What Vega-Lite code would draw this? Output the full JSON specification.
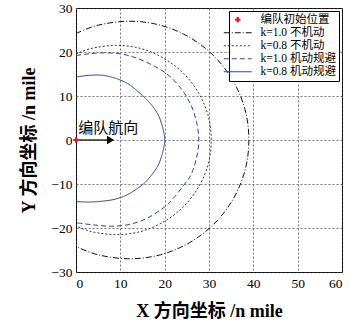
{
  "$schema": "https://vega.github.io/schema/vega-lite/v6.json",
  "width": 266,
  "height": 264,
  "autosize": "none",
  "padding": {"left": 76, "top": 8, "right": 8, "bottom": 48},
  "background": "white",
  "config": {
    "view": {"stroke": "black", "strokeWidth": 1},
    "axis": {
      "labelFont": "Liberation Serif",
      "labelFontSize": 13.5,
      "labelColor": "black",
      "titleFont": "Liberation Serif, Noto Sans CJK SC",
      "titleFontSize": 18,
      "titleFontWeight": "bold",
      "titleColor": "black",
      "domain": false,
      "ticks": false,
      "labelPadding": 4,
      "gridColor": "#444",
      "gridDash": [2, 2],
      "gridOpacity": 0.9,
      "gridWidth": 0.8
    },
    "axisX": {"titlePadding": 13},
    "axisY": {"titlePadding": 12}
  },
  "datasets": {
    "curves": [
      {"s": "k=1.0 不机动", "i": 0, "x": 0, "y": 24.2},
      {"s": "k=1.0 不机动", "i": 1, "x": 5.0, "y": 26.1},
      {"s": "k=1.0 不机动", "i": 2, "x": 12, "y": 27},
      {"s": "k=1.0 不机动", "i": 3, "x": 19.0, "y": 26.1},
      {"s": "k=1.0 不机动", "i": 4, "x": 25.5, "y": 23.4},
      {"s": "k=1.0 不机动", "i": 5, "x": 31.1, "y": 19.1},
      {"s": "k=1.0 不机动", "i": 6, "x": 35.4, "y": 13.5},
      {"s": "k=1.0 不机动", "i": 7, "x": 38.1, "y": 7.0},
      {"s": "k=1.0 不机动", "i": 8, "x": 39, "y": 0},
      {"s": "k=1.0 不机动", "i": 9, "x": 38.1, "y": -7.0},
      {"s": "k=1.0 不机动", "i": 10, "x": 35.4, "y": -13.5},
      {"s": "k=1.0 不机动", "i": 11, "x": 31.1, "y": -19.1},
      {"s": "k=1.0 不机动", "i": 12, "x": 25.5, "y": -23.4},
      {"s": "k=1.0 不机动", "i": 13, "x": 19.0, "y": -26.1},
      {"s": "k=1.0 不机动", "i": 14, "x": 12, "y": -27},
      {"s": "k=1.0 不机动", "i": 15, "x": 5.0, "y": -26.1},
      {"s": "k=1.0 不机动", "i": 16, "x": 0, "y": -24.2},
      {"s": "k=0.8 不机动", "i": 0, "x": 0, "y": 19.5},
      {"s": "k=0.8 不机动", "i": 1, "x": 3.4, "y": 20.8},
      {"s": "k=0.8 不机动", "i": 2, "x": 9, "y": 21.5},
      {"s": "k=0.8 不机动", "i": 3, "x": 14.6, "y": 20.8},
      {"s": "k=0.8 不机动", "i": 4, "x": 19.75, "y": 18.6},
      {"s": "k=0.8 不机动", "i": 5, "x": 24.2, "y": 15.2},
      {"s": "k=0.8 不机动", "i": 6, "x": 27.6, "y": 10.75},
      {"s": "k=0.8 不机动", "i": 7, "x": 29.8, "y": 5.6},
      {"s": "k=0.8 不机动", "i": 8, "x": 30.5, "y": 0},
      {"s": "k=0.8 不机动", "i": 9, "x": 29.8, "y": -5.6},
      {"s": "k=0.8 不机动", "i": 10, "x": 27.6, "y": -10.75},
      {"s": "k=0.8 不机动", "i": 11, "x": 24.2, "y": -15.2},
      {"s": "k=0.8 不机动", "i": 12, "x": 19.75, "y": -18.6},
      {"s": "k=0.8 不机动", "i": 13, "x": 14.6, "y": -20.8},
      {"s": "k=0.8 不机动", "i": 14, "x": 9, "y": -21.5},
      {"s": "k=0.8 不机动", "i": 15, "x": 3.4, "y": -20.8},
      {"s": "k=0.8 不机动", "i": 16, "x": 0, "y": -19.5},
      {"s": "k=1.0 机动规避", "i": 0, "x": 0, "y": 19.2},
      {"s": "k=1.0 机动规避", "i": 1, "x": 3, "y": 19.6},
      {"s": "k=1.0 机动规避", "i": 2, "x": 6, "y": 19.8},
      {"s": "k=1.0 机动规避", "i": 3, "x": 10, "y": 19.6},
      {"s": "k=1.0 机动规避", "i": 4, "x": 14, "y": 18.5},
      {"s": "k=1.0 机动规避", "i": 5, "x": 18, "y": 16.6},
      {"s": "k=1.0 机动规避", "i": 6, "x": 21, "y": 14.6},
      {"s": "k=1.0 机动规避", "i": 7, "x": 24, "y": 11.3},
      {"s": "k=1.0 机动规避", "i": 8, "x": 26, "y": 7.8},
      {"s": "k=1.0 机动规避", "i": 9, "x": 27.2, "y": 4},
      {"s": "k=1.0 机动规避", "i": 10, "x": 27.7, "y": 0},
      {"s": "k=1.0 机动规避", "i": 11, "x": 27.2, "y": -4},
      {"s": "k=1.0 机动规避", "i": 12, "x": 26, "y": -7.8},
      {"s": "k=1.0 机动规避", "i": 13, "x": 24.5, "y": -10},
      {"s": "k=1.0 机动规避", "i": 14, "x": 22, "y": -13.2},
      {"s": "k=1.0 机动规避", "i": 15, "x": 20, "y": -15.2},
      {"s": "k=1.0 机动规避", "i": 16, "x": 16, "y": -17.8},
      {"s": "k=1.0 机动规避", "i": 17, "x": 12, "y": -19.2},
      {"s": "k=1.0 机动规避", "i": 18, "x": 8, "y": -19.6},
      {"s": "k=1.0 机动规避", "i": 19, "x": 4, "y": -19.3},
      {"s": "k=1.0 机动规避", "i": 20, "x": 0, "y": -18.8},
      {"s": "k=0.8 机动规避", "i": 0, "x": 0, "y": 14.3},
      {"s": "k=0.8 机动规避", "i": 1, "x": 3, "y": 14.7},
      {"s": "k=0.8 机动规避", "i": 2, "x": 6, "y": 14.7},
      {"s": "k=0.8 机动规避", "i": 3, "x": 9, "y": 14},
      {"s": "k=0.8 机动规避", "i": 4, "x": 12, "y": 12.6},
      {"s": "k=0.8 机动规避", "i": 5, "x": 15, "y": 10.1},
      {"s": "k=0.8 机动规避", "i": 6, "x": 17, "y": 8},
      {"s": "k=0.8 机动规避", "i": 7, "x": 18.5, "y": 5.8},
      {"s": "k=0.8 机动规避", "i": 8, "x": 19.5, "y": 3},
      {"s": "k=0.8 机动规避", "i": 9, "x": 20, "y": 0},
      {"s": "k=0.8 机动规避", "i": 10, "x": 19.5, "y": -3},
      {"s": "k=0.8 机动规避", "i": 11, "x": 18.5, "y": -5.8},
      {"s": "k=0.8 机动规避", "i": 12, "x": 17, "y": -8},
      {"s": "k=0.8 机动规避", "i": 13, "x": 15.2, "y": -10},
      {"s": "k=0.8 机动规避", "i": 14, "x": 12, "y": -12.2},
      {"s": "k=0.8 机动规避", "i": 15, "x": 9, "y": -13.4},
      {"s": "k=0.8 机动规避", "i": 16, "x": 6, "y": -13.9},
      {"s": "k=0.8 机动规避", "i": 17, "x": 3, "y": -14.1},
      {"s": "k=0.8 机动规避", "i": 18, "x": 0, "y": -14.0}
    ],
    "start": [{"s": "编队初始位置", "x": 0, "y": 0}],
    "arrow": [{"label": "编队航向", "x": 0, "x2": 7, "xh": 7.8, "y": 0, "ty": 2.8, "tx": 0.5}]
  },
  "layer": [
    {
      "data": {"name": "curves"},
      "mark": {"type": "line", "strokeWidth": 1, "interpolate": "cardinal", "clip": true},
      "encoding": {
        "x": {"field": "x", "type": "quantitative", "scale": {"domain": [0, 60]}, "axis": {"values": [0, 10, 20, 30, 40, 50, 60], "title": "X 方向坐标 /n mile", "grid": true}},
        "y": {"field": "y", "type": "quantitative", "scale": {"domain": [-30, 30]}, "axis": {"values": [-30, -20, -10, 0, 10, 20, 30], "title": "Y 方向坐标 /n mile", "grid": true}},
        "order": {"field": "i", "type": "quantitative"},
        "detail": {"field": "s", "type": "nominal"},
        "color": {
          "field": "s", "type": "nominal",
          "scale": {
            "domain": ["编队初始位置", "k=1.0 不机动", "k=0.8 不机动", "k=1.0 机动规避", "k=0.8 机动规避"],
            "range": ["#e8141b", "#111111", "#333333", "#2f3f9a", "#2f3f9a"]
          },
          "legend": {
            "orient": "top-right",
            "offset": 3,
            "title": null,
            "fillColor": "white",
            "strokeColor": "black",
            "padding": 3,
            "rowPadding": 0,
            "labelFont": "Liberation Serif, Noto Sans CJK SC",
            "labelFontSize": 11.5,
            "labelColor": "black",
            "labelOffset": 17,
            "symbolType": "stroke",
            "symbolSize": 780,
            "encode": {
              "symbols": {
                "update": {
                  "shape": {"signal": "datum.value === '编队初始位置' ? 'cross' : 'stroke'"},
                  "size": {"signal": "datum.value === '编队初始位置' ? 30 : 780"},
                  "strokeDash": {"signal": "datum.value === 'k=1.0 不机动' ? [6,2,1,2] : datum.value === 'k=0.8 不机动' ? [2,2] : datum.value === 'k=1.0 机动规避' ? [5,3] : [1,0]"},
                  "fill": {"signal": "datum.value === '编队初始位置' ? '#e8141b' : 'transparent'"},
                  "strokeWidth": {"signal": "datum.value === '编队初始位置' ? 0 : 1.2"}
                }
              }
            }
          }
        },
        "strokeDash": {
          "field": "s", "type": "nominal",
          "scale": {
            "domain": ["编队初始位置", "k=1.0 不机动", "k=0.8 不机动", "k=1.0 机动规避", "k=0.8 机动规避"],
            "range": [[1, 0], [6, 2, 1, 2], [2, 2], [5, 3], [1, 0]]
          },
          "legend": null
        }
      }
    },
    {
      "data": {"name": "arrow"},
      "mark": {"type": "rule", "color": "black", "strokeWidth": 1.2},
      "encoding": {
        "x": {"field": "x", "type": "quantitative"},
        "x2": {"field": "x2"},
        "y": {"field": "y", "type": "quantitative"}
      }
    },
    {
      "data": {"name": "arrow"},
      "mark": {"type": "point", "shape": "triangle-right", "filled": true, "color": "black", "size": 70, "opacity": 1},
      "encoding": {
        "x": {"field": "xh", "type": "quantitative"},
        "y": {"field": "y", "type": "quantitative"}
      }
    },
    {
      "data": {"name": "arrow"},
      "mark": {"type": "text", "align": "left", "baseline": "middle", "font": "Noto Sans CJK SC", "fontSize": 15, "color": "black"},
      "encoding": {
        "x": {"field": "tx", "type": "quantitative"},
        "y": {"field": "ty", "type": "quantitative"},
        "text": {"field": "label"}
      }
    },
    {
      "data": {"name": "start"},
      "mark": {"type": "point", "shape": "cross", "filled": true, "size": 30, "opacity": 1},
      "encoding": {
        "x": {"field": "x", "type": "quantitative"},
        "y": {"field": "y", "type": "quantitative"},
        "color": {"field": "s", "type": "nominal"}
      }
    }
  ]
}
